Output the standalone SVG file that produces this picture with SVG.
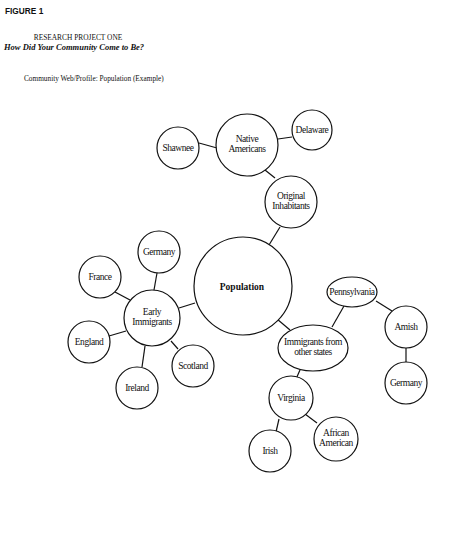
<svg xmlns="http://www.w3.org/2000/svg" width="451" height="535" viewBox="0 0 451 535">
<style>
.n{fill:#fff;stroke:#111;stroke-width:1.2}
.c line{stroke:#111;stroke-width:1.2}
.t{font-family:"Liberation Serif",serif;font-size:9.5px;letter-spacing:-0.45px;fill:#111;text-anchor:middle}
.b{font-weight:bold;font-size:9.5px;letter-spacing:0}
</style>
<rect width="451" height="535" fill="#fff"/>
<text x="5" y="14" font-family="Liberation Sans, Arial, sans-serif" font-weight="bold" font-size="8.3" fill="#111">FIGURE 1</text>
<text x="78" y="40" font-family="Liberation Serif, serif" font-size="7.4" fill="#111" text-anchor="middle">RESEARCH PROJECT ONE</text>
<text x="4" y="50" font-family="Liberation Serif, serif" font-weight="bold" font-style="italic" font-size="8.5" fill="#111">How Did Your Community Come to Be?</text>
<text x="24" y="81" font-family="Liberation Serif, serif" font-size="7.3" fill="#111">Community Web/Profile: Population (Example)</text>
<g id="connectors" class="c">
<line x1="199" y1="143" x2="217" y2="148"/>
<line x1="278" y1="139" x2="292" y2="137"/>
<line x1="265" y1="170" x2="275" y2="178"/>
<line x1="280" y1="227" x2="269" y2="245"/>
<line x1="157" y1="273" x2="154" y2="290"/>
<line x1="115" y1="292" x2="130" y2="300"/>
<line x1="109" y1="336" x2="126" y2="331"/>
<line x1="171" y1="341" x2="178" y2="349"/>
<line x1="145" y1="346" x2="142" y2="367"/>
<line x1="179" y1="308" x2="195" y2="303"/>
<line x1="277" y1="319" x2="290" y2="330"/>
<line x1="332" y1="327" x2="344" y2="306"/>
<line x1="376" y1="301" x2="392" y2="311"/>
<line x1="406" y1="347" x2="406" y2="362"/>
<line x1="300" y1="370" x2="296" y2="379"/>
<line x1="305" y1="414" x2="317" y2="423"/>
<line x1="279" y1="419" x2="276" y2="432"/>
</g>
<g id="native-americans"><circle class="n" cx="247" cy="145" r="31"/><text class="t" x="247" y="142">Native</text><text class="t" x="247" y="152">Americans</text></g>
<g id="shawnee"><circle class="n" cx="178" cy="148" r="21"/><text class="t" x="178" y="151">Shawnee</text></g>
<g id="delaware"><circle class="n" cx="312" cy="130" r="20"/><text class="t" x="312" y="133">Delaware</text></g>
<g id="original-inhabitants"><circle class="n" cx="291" cy="202" r="26"/><text class="t" x="291" y="199">Original</text><text class="t" x="291" y="209">Inhabitants</text></g>
<g id="population"><circle class="n" cx="243" cy="286" r="49"/><text class="t b" x="242" y="290">Population</text></g>
<g id="germany-1"><circle class="n" cx="159" cy="252" r="21"/><text class="t" x="159" y="255">Germany</text></g>
<g id="france"><circle class="n" cx="100" cy="277" r="21"/><text class="t" x="100" y="280">France</text></g>
<g id="early-immigrants"><circle class="n" cx="152" cy="318" r="28"/><text class="t" x="152" y="315">Early</text><text class="t" x="152" y="325">Immigrants</text></g>
<g id="england"><circle class="n" cx="89" cy="342" r="21"/><text class="t" x="89" y="345">England</text></g>
<g id="scotland"><circle class="n" cx="193" cy="366" r="21"/><text class="t" x="193" y="369">Scotland</text></g>
<g id="ireland"><circle class="n" cx="137" cy="388" r="21"/><text class="t" x="137" y="391">Ireland</text></g>
<g id="pennsylvania"><ellipse class="n" cx="352" cy="292" rx="25" ry="15"/><text class="t" x="352" y="295">Pennsylvania</text></g>
<g id="amish"><circle class="n" cx="406" cy="327" r="21"/><text class="t" x="406" y="330">Amish</text></g>
<g id="germany-2"><circle class="n" cx="406" cy="383" r="21"/><text class="t" x="406" y="386">Germany</text></g>
<g id="immigrants-other-states"><ellipse class="n" cx="313" cy="348" rx="35" ry="23"/><text class="t" x="313" y="345">Immigrants from</text><text class="t" x="313" y="355">other states</text></g>
<g id="virginia"><circle class="n" cx="291" cy="398" r="22"/><text class="t" x="291" y="401">Virginia</text></g>
<g id="african-american"><circle class="n" cx="336" cy="439" r="22"/><text class="t" x="336" y="436">African</text><text class="t" x="336" y="446">American</text></g>
<g id="irish"><circle class="n" cx="270" cy="451" r="21"/><text class="t" x="270" y="454">Irish</text></g>
</svg>
